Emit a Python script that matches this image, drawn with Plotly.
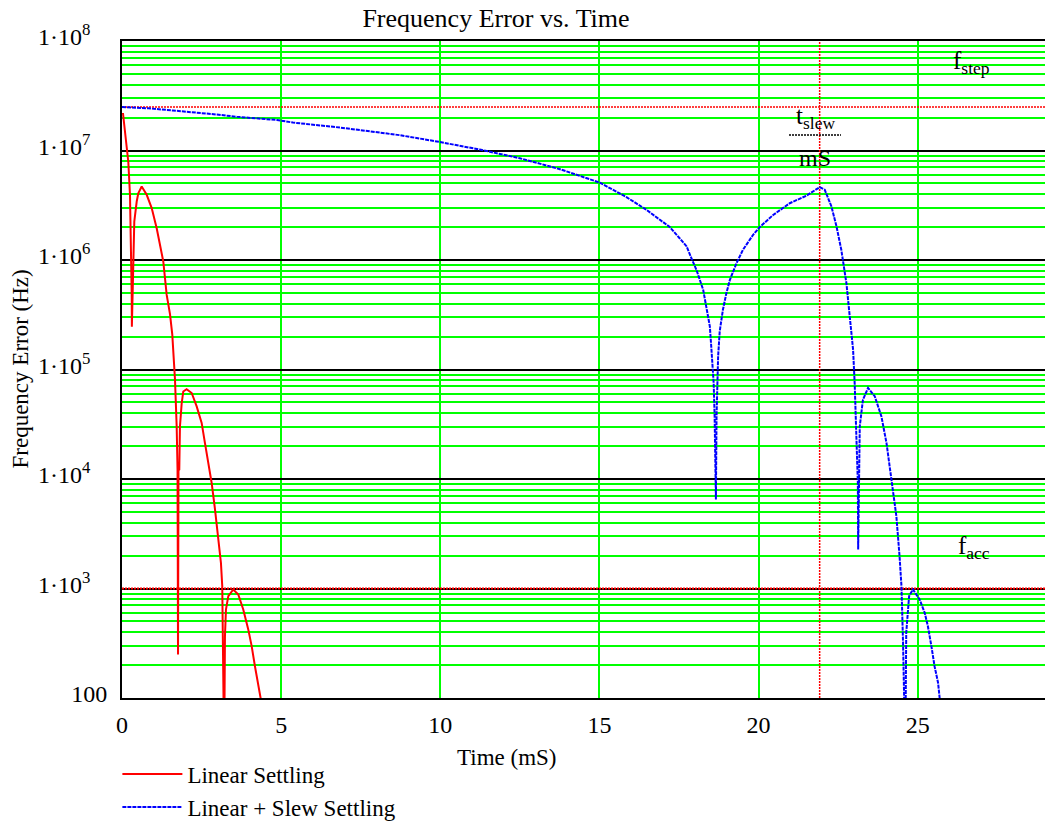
import plotly.graph_objects as go

# ---- data ----
# Linear settling (time in mS, frequency error in Hz)
lin_t = [0.03, 0.148, 0.198, 0.251, 0.283, 0.305, 0.31, 0.355, 0.386, 0.462, 0.512, 0.619,
         0.776, 0.933, 1.09, 1.193, 1.297, 1.404, 1.508, 1.58, 1.633, 1.665, 1.718, 1.745,
         1.76, 1.775, 1.80, 1.82, 1.875, 1.925, 2.03, 2.19, 2.346, 2.503, 2.607, 2.71,
         2.817, 2.921, 3.024, 3.109, 3.15, 3.18, 3.21, 3.235, 3.266, 3.34, 3.496, 3.653,
         3.81, 3.967, 4.074, 4.177, 4.281, 4.334, 4.45]
lin_f = [2.2e7, 1.12e7, 7.9e6, 3.9e6, 1.38e6, 4.8e5, 2.46e5, 9.7e5, 2.24e6, 3.42e6, 4.07e6, 4.69e6,
         3.94e6, 2.98e6, 1.95e6, 1.38e6, 9.7e5, 4.8e5, 3.2e5, 2.08e5, 1.27e5, 8.1e4, 3.0e4, 1.2e4,
         2.5e2, 1.2e4, 1.22e4, 3.0e4, 4.9e4, 6.3e4, 6.6e4, 6.1e4, 4.6e4, 3.25e4, 2.13e4, 1.40e4,
         9.2e3, 5.3e3, 3.0e3, 1.71e3, 1.05e3, 3.67e2, 30, 3.67e2, 6.43e2, 8.51e2, 9.8e2, 8.81e2,
         6.43e2, 4.23e2, 2.98e2, 1.95e2, 1.28e2, 1.04e2, 70]

# Linear + slew settling
slew_t = [0.0, 0.82, 1.60, 2.29, 2.98, 3.61, 4.24, 4.87, 5.37, 6.85, 8.73, 9.96, 11.24, 12.5,
          13.76, 15.01, 15.85, 16.48, 16.9, 17.21, 17.52, 17.74, 17.89, 18.05, 18.26, 18.36,
          18.47, 18.52, 18.59, 18.62, 18.63, 18.66, 18.68, 18.73, 18.78, 18.88, 18.99, 19.1,
          19.31, 19.51, 19.83, 20.04, 20.46, 20.98, 21.5, 21.92, 22.08, 22.29, 22.45, 22.6,
          22.76, 22.86, 22.97, 23.02, 23.07, 23.12, 23.13, 23.18, 23.28, 23.44, 23.65, 23.86,
          24.02, 24.12, 24.22, 24.33, 24.43, 24.49, 24.54, 24.59, 24.61, 24.64, 24.73, 24.85,
          25.06, 25.22, 25.32, 25.43, 25.53, 25.64, 25.69, 25.8]
slew_f = [2.5e7, 2.43e7, 2.32e7, 2.23e7, 2.13e7, 2.03e7, 1.96e7, 1.90e7, 1.80e7, 1.62e7, 1.38e7,
          1.20e7, 1.02e7, 8.5e6, 6.75e6, 5.09e6, 3.75e6, 2.87e6, 2.33e6, 2.0e6, 1.58e6, 1.33e6,
          1.04e6, 8.1e5, 5.35e5, 3.77e5, 2.47e5, 1.52e5, 7.5e4, 3.73e4, 1.92e4, 6.5e3, 3.73e4,
          1.32e5, 2.23e5, 3.51e5, 4.99e5, 6.6e5, 9.4e5, 1.24e6, 1.70e6, 2.0e6, 2.58e6, 3.3e6,
          3.86e6, 4.62e6, 4.38e6, 3.08e6, 2.02e6, 1.24e6, 6.15e5, 3.28e5, 1.52e5, 7.5e4, 2.65e4,
          9.2e3, 2.27e3, 3.03e4, 5.3e4, 6.78e4, 5.7e4, 3.73e4, 2.13e4, 1.31e4, 8.0e3, 4.57e3,
          1.97e3, 1.05e3, 3.2e2, 1.0e2, 30, 3.94e2, 8.51e2, 9.8e2, 7.95e2, 6.0e2, 4.53e2,
          2.98e2, 1.95e2, 1.38e2, 1.0e2, 80]

# marker values
f_step = 2.5e7
f_acc = 1.0e3
t_slew = 21.92

x_range = [0, 29]
PAD = "\u2002\u2009"
y_tickvals = [1e2, 1e3, 1e4, 1e5, 1e6, 1e7, 1e8]
y_ticktext = ["100"] + ["1\u00b710<sup>%d</sup>%s" % (p, PAD) for p in range(3, 9)]
x_tickvals = [0, 5, 10, 15, 20, 25]

FONT = "Liberation Serif"
GREEN = "#00ff00"

fig = go.Figure()

# marker lines
fig.add_trace(go.Scatter(x=x_range, y=[f_step, f_step], mode="lines", showlegend=False,
                         line=dict(color="#ff0000", width=1.5, dash="2px,1px"), hoverinfo="skip"))
fig.add_trace(go.Scatter(x=x_range, y=[f_acc, f_acc], mode="lines", showlegend=False,
                         line=dict(color="#ff0000", width=2, dash="2px,1px"), hoverinfo="skip"))
fig.add_trace(go.Scatter(x=[t_slew, t_slew], y=[y_tickvals[0], y_tickvals[-1]], mode="lines",
                         showlegend=False, line=dict(color="#ff0000", width=1.5, dash="2px,1px"),
                         hoverinfo="skip"))

fig.add_trace(go.Scatter(x=lin_t, y=lin_f, mode="lines", name="Linear Settling",
                         line=dict(color="#ff0000", width=2)))
fig.add_trace(go.Scatter(x=slew_t, y=slew_f, mode="lines", name="Linear + Slew Settling",
                         line=dict(color="#0000ff", width=2, dash="4px,1px")))

fig.update_layout(
    width=1045, height=825,
    margin=dict(l=122, r=0, t=41, b=127, autoexpand=False),
    paper_bgcolor="white", plot_bgcolor="white",
    font=dict(family=FONT, color="black", size=24),
    title=dict(text="Frequency Error vs. Time", x=496 / 1045, xanchor="center",
               y=1 - 18 / 825, yanchor="middle", font=dict(family=FONT, size=26)),
    showlegend=True,
    legend=dict(x=-0.005, xanchor="left", y=-0.083, yanchor="top", bgcolor="rgba(0,0,0,0)",
                font=dict(family=FONT, size=23), itemwidth=60, tracegroupgap=0),
)

fig.update_xaxes(
    range=x_range, tickmode="array", tickvals=x_tickvals, ticks="", showline=True,
    linecolor="black", linewidth=2, mirror=True, showgrid=True, gridcolor=GREEN, gridwidth=1.5,
    zeroline=False, tickfont=dict(family=FONT, size=24), ticklabelstandoff=4,
)
fig.update_yaxes(
    type="log", range=[2, 8], tickmode="array", tickvals=y_tickvals, ticktext=y_ticktext,
    ticks="", showline=True, linecolor="black", linewidth=2, showgrid=True, gridcolor="black",
    gridwidth=2, zeroline=False, tickfont=dict(family=FONT, size=24), ticklabelstandoff=8,
    ticklabelshift=-4,
    minor=dict(dtick="D1", showgrid=True, gridcolor=GREEN, gridwidth=1.5),
)

# axis titles
fig.add_annotation(text="Time (mS)", xref="paper", yref="paper", x=(506 - 122) / 923,
                   y=(698 - 757) / 657, xanchor="center", yanchor="middle", showarrow=False,
                   font=dict(family=FONT, size=23))
fig.add_annotation(text="Frequency Error (Hz)", xref="paper", yref="paper", x=(20 - 122) / 923,
                   y=0.5, xanchor="center", yanchor="middle", showarrow=False, textangle=-90,
                   font=dict(family=FONT, size=23))

# marker labels
fig.add_annotation(text="f<sub>step</sub>", xref="paper", yref="paper", x=(971 - 122) / 923,
                   y=(698 - 62) / 657, xanchor="center", yanchor="middle", showarrow=False,
                   font=dict(family=FONT, size=25))
fig.add_annotation(text="f<sub>acc</sub>", xref="paper", yref="paper", x=(974 - 122) / 923,
                   y=(698 - 547) / 657, xanchor="center", yanchor="middle", showarrow=False,
                   font=dict(family=FONT, size=25))
fig.add_annotation(text="t<sub>slew</sub>", xref="paper", yref="paper", x=(815 - 122) / 923,
                   y=(698 - 117) / 657, xanchor="center", yanchor="middle", showarrow=False,
                   font=dict(family=FONT, size=25))
fig.add_annotation(text="mS", xref="paper", yref="paper", x=(815 - 122) / 923,
                   y=(698 - 158) / 657, xanchor="center", yanchor="middle", showarrow=False,
                   font=dict(family=FONT, size=24))
fig.add_shape(type="line", xref="paper", yref="paper", x0=(789 - 122) / 923, x1=(841 - 122) / 923,
              y0=(698 - 135) / 657, y1=(698 - 135) / 657,
              line=dict(color="black", width=1.5, dash="2px,1px"))

fig.write_html("out.html")
